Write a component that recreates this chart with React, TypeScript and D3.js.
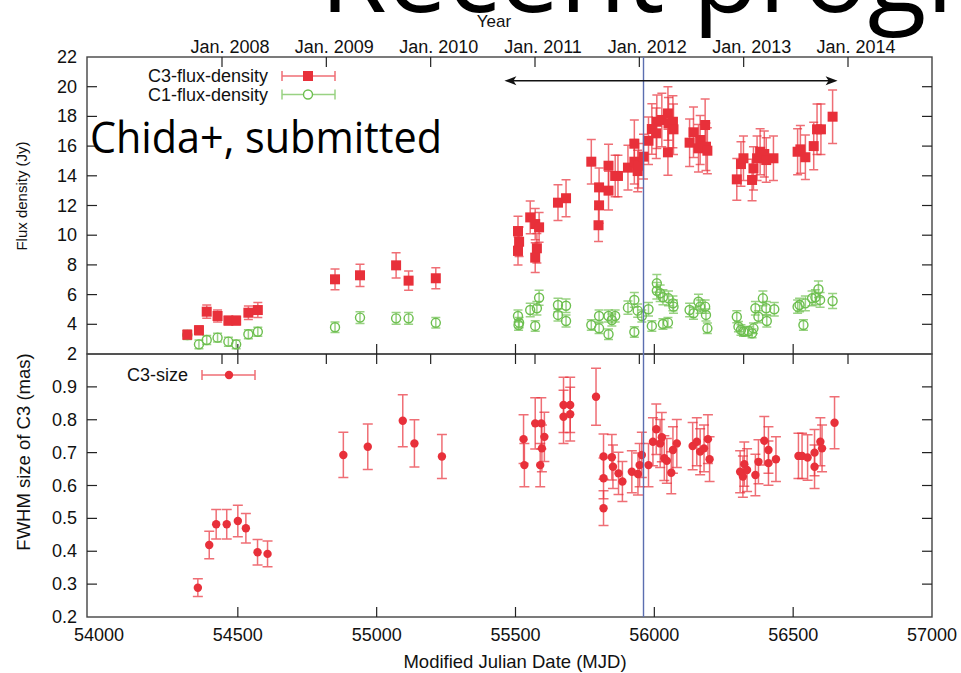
import React, { useEffect, useRef } from "react";
import * as d3 from "d3";

// C3 flux density (Jy)
const c3FluxMjd = [54318, 54360, 54388, 54427, 54466, 54494, 54538, 54572, 54850, 54940, 55070, 55115, 55213,
  55509, 55513, 55509, 55553, 55571, 55585, 55577, 55571, 55653, 55682, 55773, 55801, 55801, 55799, 55835, 55835,
  55859, 55869, 55905, 55928, 55928, 55940, 55943, 55961, 55979, 55991, 56007, 56009, 56027, 56049, 56051, 56049,
  56067, 56069, 56127, 56141, 56165, 56159, 56183, 56186, 56191, 56297, 56312, 56321, 56352, 56357, 56370, 56381,
  56396, 56403, 56429, 56516, 56526, 56544, 56574, 56586, 56600, 56642];
const c3Flux = [3.3, 3.6, 4.85, 4.56, 4.25, 4.25, 4.78, 4.96, 7.03, 7.3, 7.97, 6.94, 7.1,
  10.28, 9.56, 8.94, 11.2, 10.75, 10.53, 9.12, 8.49, 12.19, 12.49, 14.95, 13.22, 12.01, 10.67, 14.68, 13.0,
  13.99, 13.99, 14.55, 16.16, 14.95, 14.32, 14.68, 15.29, 16.36, 17.15, 16.86, 17.64, 17.76, 18.2, 17.53, 15.58,
  17.64, 17.13, 16.23, 16.93, 16.41, 15.85, 17.42, 15.96, 15.69, 13.76, 14.79, 15.18, 13.72, 14.5, 15.18, 15.62,
  15.47, 15.06, 15.18, 15.62, 15.78, 15.25, 16.0, 17.13, 17.13, 17.98];
const c3FluxErr = [0.3, 0.3, 0.45, 0.4, 0.3, 0.3, 0.45, 0.5, 0.7, 0.75, 0.85, 0.65, 0.7,
  1.0, 1.0, 0.95, 1.1, 1.05, 1.0, 1.0, 1.0, 1.2, 1.25, 1.5, 1.3, 1.2, 1.1, 1.45, 1.3,
  1.4, 1.4, 1.5, 1.6, 1.5, 1.4, 1.5, 1.5, 1.6, 1.7, 1.7, 1.8, 1.8, 1.8, 1.75, 1.55,
  1.75, 1.7, 1.6, 1.7, 1.65, 1.6, 1.75, 1.6, 1.55, 1.4, 1.5, 1.5, 1.4, 1.45, 1.5, 1.55,
  1.55, 1.5, 1.5, 1.55, 1.6, 1.5, 1.6, 1.7, 1.7, 1.8];

// C1 flux density (Jy)
const c1FluxMjd = [54318, 54360, 54388, 54427, 54466, 54494, 54538, 54572, 54850, 54940, 55070, 55115, 55213,
  55509, 55513, 55511, 55553, 55571, 55577, 55585, 55653, 55682, 55653, 55682, 55773, 55801, 55801, 55835, 55835,
  55859, 55847, 55905, 55928, 55928, 55940, 55955, 55979, 55991, 56009, 56009, 56021, 56031, 56031, 56049, 56051,
  56067, 56069, 56127, 56141, 56159, 56165, 56183, 56186, 56191, 56297, 56303, 56312, 56321, 56339, 56352, 56357,
  56364, 56375, 56391, 56403, 56405, 56432, 56516, 56523, 56537, 56544, 56568, 56580, 56591, 56597, 56642];
const c1Flux = [3.28, 2.65, 2.94, 3.1, 2.83, 2.65, 3.33, 3.5, 3.8, 4.45, 4.4, 4.4, 4.1,
  4.56, 4.11, 3.95, 4.96, 3.89, 5.08, 5.79, 5.3, 5.25, 4.63, 4.22, 3.95, 4.56, 3.73, 4.56, 3.33,
  4.56, 4.29, 5.12, 5.64, 3.48, 4.92, 4.56, 5.01, 3.89, 6.76, 6.26, 6.09, 5.82, 4.02, 4.11, 5.75,
  5.41, 5.19, 4.96, 4.74, 5.52, 5.19, 5.19, 4.63, 3.73, 4.51, 3.84, 3.62, 3.5, 3.55, 3.39, 3.73,
  5.08, 4.51, 5.75, 5.08, 4.22, 5.01, 5.19, 5.3, 3.95, 5.41, 5.75, 5.82, 6.36, 5.64, 5.57];
const c1FluxErr = [0.3, 0.3, 0.3, 0.3, 0.3, 0.3, 0.3, 0.3, 0.35, 0.4, 0.4, 0.4, 0.35,
  0.4, 0.35, 0.35, 0.45, 0.35, 0.45, 0.5, 0.45, 0.45, 0.4, 0.4, 0.35, 0.4, 0.35, 0.4, 0.35,
  0.4, 0.4, 0.45, 0.5, 0.35, 0.45, 0.4, 0.45, 0.35, 0.6, 0.55, 0.55, 0.5, 0.35, 0.35, 0.5,
  0.5, 0.45, 0.45, 0.4, 0.5, 0.45, 0.45, 0.4, 0.35, 0.4, 0.35, 0.35, 0.3, 0.3, 0.3, 0.35,
  0.45, 0.4, 0.5, 0.45, 0.4, 0.45, 0.45, 0.45, 0.35, 0.5, 0.5, 0.5, 0.55, 0.5, 0.5];

// C3 size (mas)
const c3SizeMjd = [54356, 54397, 54422, 54460, 54500, 54529, 54571, 54607, 54880, 54968, 55094, 55136, 55235,
  55529, 55532, 55571, 55593, 55589, 55595, 55604, 55673, 55673, 55697, 55697, 55790, 55817, 55817, 55817,
  55847, 55851, 55871, 55885, 55919, 55941, 55947, 55955, 55979, 55995, 56007, 56021, 56027, 56036, 56045,
  56061, 56067, 56081, 56138, 56153, 56165, 56179, 56193, 56199, 56309, 56319, 56324, 56334, 56364, 56375,
  56396, 56411, 56411, 56438, 56519, 56532, 56552, 56577, 56577, 56598, 56604, 56649];
const c3Size = [0.289, 0.419, 0.482, 0.482, 0.492, 0.47, 0.397, 0.392, 0.693, 0.718, 0.797, 0.728, 0.688,
  0.741, 0.662, 0.789, 0.789, 0.662, 0.713, 0.748, 0.845, 0.809, 0.845, 0.817, 0.87, 0.688, 0.622, 0.531,
  0.686, 0.657, 0.637, 0.612, 0.642, 0.635, 0.662, 0.693, 0.662, 0.733, 0.771, 0.728, 0.747, 0.683, 0.675,
  0.639, 0.708, 0.728, 0.72, 0.733, 0.703, 0.713, 0.741, 0.68, 0.642, 0.627, 0.665, 0.647, 0.632, 0.672,
  0.736, 0.708, 0.668, 0.68, 0.69, 0.69, 0.685, 0.7, 0.657, 0.733, 0.713, 0.791];
const c3SizeErr = [0.027, 0.042, 0.045, 0.045, 0.048, 0.045, 0.039, 0.039, 0.069, 0.069, 0.079, 0.072, 0.067,
  0.074, 0.066, 0.078, 0.078, 0.066, 0.071, 0.075, 0.084, 0.081, 0.084, 0.082, 0.087, 0.069, 0.062, 0.053,
  0.069, 0.066, 0.064, 0.061, 0.064, 0.064, 0.066, 0.069, 0.066, 0.073, 0.077, 0.073, 0.075, 0.068, 0.068,
  0.064, 0.071, 0.073, 0.072, 0.073, 0.07, 0.071, 0.074, 0.068, 0.064, 0.063, 0.067, 0.065, 0.063, 0.067,
  0.074, 0.071, 0.067, 0.068, 0.069, 0.069, 0.069, 0.07, 0.066, 0.073, 0.071, 0.079];

// axes
const mjdTicks = [54000, 54500, 55000, 55500, 56000, 56500, 57000];
const yearTicks = [2008, 2009, 2010, 2011, 2012, 2013, 2014];
const yearLabels = ["Jan. 2008", "Jan. 2009", "Jan. 2010", "Jan. 2011", "Jan. 2012", "Jan. 2013", "Jan. 2014"];
const fluxTicks = [2, 4, 6, 8, 10, 12, 14, 16, 18, 20, 22];
const sizeTicks = [0.2, 0.3, 0.4, 0.5, 0.6, 0.7, 0.8, 0.9];

// annotations
const markerMjd = 55961;
const arrowMjd = [55460, 56660];
const arrowFlux = 20.4;

const RED = "#e8303a";
const GREEN = "#6dbf4f";
const FONT = "'Liberation Sans', Arial, sans-serif";

const App = () => {
  const ref = useRef<SVGSVGElement>(null);

  useEffect(() => {
    const svg = d3.select(ref.current);
    svg.selectAll("*").remove();

    const left = 87, right = 932, top = 57, mid = 354, bottom = 617, tick = 10;

    const x = d3.scaleLinear().domain([54000, 57000]).range([99, right]);
    const yearX = d3.scaleLinear().domain([2008, 2014]).range([222, 848]);
    const yF = d3.scaleLinear().domain([2, 22]).range([mid, top]);
    const yS = d3.scaleLinear().domain([0.2, 1.0]).range([bottom, mid]);

    svg.append("rect").attr("width", 961).attr("height", 673).attr("fill", "#fff");

    const g = svg.append("g");

    // frames
    [[top, mid], [mid, bottom]].forEach(([a, b]) => {
      g.append("rect").attr("x", left).attr("y", a).attr("width", right - left).attr("height", b - a)
        .attr("fill", "none").attr("stroke", "#444").attr("stroke-width", 1.4);
    });

    const tl = (x1: number, y1: number, x2: number, y2: number) =>
      g.append("line").attr("x1", x1).attr("y1", y1).attr("x2", x2).attr("y2", y2)
        .attr("stroke", "#222").attr("stroke-width", 1.2);

    // y ticks
    fluxTicks.filter(t => t > 2 && t < 22).forEach(t => {
      tl(left, yF(t), left + tick, yF(t));
      tl(right, yF(t), right - tick, yF(t));
    });
    sizeTicks.filter(t => t > 0.2).forEach(t => {
      tl(left, yS(t), left + tick, yS(t));
      tl(right, yS(t), right - tick, yS(t));
    });
    // x ticks
    mjdTicks.filter(t => t > 54000 && t < 57000).forEach(t => {
      tl(x(t), bottom, x(t), bottom - tick);
      tl(x(t), mid, x(t), mid - tick);
      tl(x(t), mid, x(t), mid + tick);
    });
    yearTicks.forEach(t => {
      tl(yearX(t), top, yearX(t), top + tick);
      tl(yearX(t), mid, yearX(t), mid + tick);
    });

    // tick labels
    const txt = (s: string, px: number, py: number, size: number, anchor = "middle") =>
      g.append("text").attr("x", px).attr("y", py).attr("text-anchor", anchor)
        .attr("font-family", FONT).attr("font-size", size).attr("fill", "#111").text(s);

    fluxTicks.forEach(t => txt(String(t), 77, yF(t) + 6, 18, "end"));
    sizeTicks.forEach(t => txt(t.toFixed(1), 77, yS(t) + 6, 18, "end"));
    mjdTicks.forEach(t => txt(String(t), x(t), 641, 18));
    yearTicks.forEach((t, i) => txt(yearLabels[i], yearX(t) + 8, 53, 18));

    // axis titles
    txt("Year", 494, 27, 17);
    txt("Modified Julian Date (MJD)", 515, 668, 18.5);
    g.append("text").attr("transform", `translate(27,${196}) rotate(-90)`).attr("text-anchor", "middle")
      .attr("font-family", FONT).attr("font-size", 15).attr("fill", "#111").text("Flux density (Jy)");
    g.append("text").attr("transform", `translate(30,${452}) rotate(-90)`).attr("text-anchor", "middle")
      .attr("font-family", FONT).attr("font-size", 18.5).attr("fill", "#111").text("FWHM size of C3 (mas)");

    // error bars
    const errBars = (xs: number[], ys: number[], es: number[], y: d3.ScaleLinear<number, number>, color: string, cap: number) => {
      const eg = g.append("g").attr("stroke", color).attr("stroke-width", 1.5).attr("stroke-opacity", 0.7).attr("fill", "none");
      xs.forEach((m, i) => {
        const px = x(m), lo = y(ys[i] - es[i]), hi = y(ys[i] + es[i]);
        eg.append("path").attr("d",
          `M${px},${lo}V${hi}M${px - cap},${lo}H${px + cap}M${px - cap},${hi}H${px + cap}`);
      });
    };
    errBars(c1FluxMjd, c1Flux, c1FluxErr, yF, GREEN, 4.5);
    errBars(c3FluxMjd, c3Flux, c3FluxErr, yF, RED, 4.5);
    errBars(c3SizeMjd, c3Size, c3SizeErr, yS, RED, 5);

    // markers
    g.append("g").selectAll("circle").data(c1FluxMjd).join("circle")
      .attr("cx", d => x(d)).attr("cy", (_, i) => yF(c1Flux[i])).attr("r", 4.5)
      .attr("fill", "none").attr("stroke", GREEN).attr("stroke-width", 1.4);
    g.append("g").selectAll("rect").data(c3FluxMjd).join("rect")
      .attr("x", d => x(d) - 5).attr("y", (_, i) => yF(c3Flux[i]) - 5).attr("width", 10).attr("height", 10)
      .attr("fill", RED);
    g.append("g").selectAll("circle").data(c3SizeMjd).join("circle")
      .attr("cx", d => x(d)).attr("cy", (_, i) => yS(c3Size[i])).attr("r", 4.2)
      .attr("fill", RED);

    // vertical marker line
    g.append("line").attr("x1", x(markerMjd)).attr("x2", x(markerMjd)).attr("y1", top).attr("y2", bottom)
      .attr("stroke", "#5b6eb0").attr("stroke-width", 1.4);

    // double arrow
    const ay = yF(arrowFlux), ax0 = x(arrowMjd[0]), ax1 = x(arrowMjd[1]);
    g.append("line").attr("x1", ax0 + 4).attr("x2", ax1 - 4).attr("y1", ay).attr("y2", ay)
      .attr("stroke", "#111").attr("stroke-width", 1.4);
    g.append("path").attr("fill", "#111")
      .attr("d", `M${ax0},${ay}L${ax0 + 12},${ay - 4.5}L${ax0 + 9},${ay}L${ax0 + 12},${ay + 4.5}Z`);
    g.append("path").attr("fill", "#111")
      .attr("d", `M${ax1},${ay}L${ax1 - 12},${ay - 4.5}L${ax1 - 9},${ay}L${ax1 - 12},${ay + 4.5}Z`);

    // legends
    const legendLine = (x0: number, x1: number, ly: number, color: string) => {
      g.append("path").attr("stroke", color).attr("stroke-width", 1.5).attr("stroke-opacity", 0.7).attr("fill", "none")
        .attr("d", `M${x0},${ly}H${x1}M${x0},${ly - 5}V${ly + 5}M${x1},${ly - 5}V${ly + 5}`);
    };
    txt("C3-flux-density", 268, 82, 18, "end");
    legendLine(282, 335, 76, RED);
    g.append("rect").attr("x", 303).attr("y", 71).attr("width", 10).attr("height", 10).attr("fill", RED);
    txt("C1-flux-density", 268, 100.5, 18, "end");
    legendLine(282, 335, 94.5, GREEN);
    g.append("circle").attr("cx", 308).attr("cy", 94.5).attr("r", 4.5).attr("fill", "#fff")
      .attr("stroke", GREEN).attr("stroke-width", 1.4);
    txt("C3-size", 188, 381, 18, "end");
    legendLine(202, 255, 375, RED);
    g.append("circle").attr("cx", 229).attr("cy", 375).attr("r", 4.2).attr("fill", RED);

    // slide overlay text
    g.append("text").attr("x", 90).attr("y", 153).attr("font-family", "'Open Sans', sans-serif")
      .attr("font-size", 43).attr("textLength", 352).attr("lengthAdjust", "spacingAndGlyphs")
      .attr("fill", "#000").text("Chida+, submitted");
    g.append("text").attr("x", 320).attr("y", 12).attr("font-family", "'Open Sans', sans-serif")
      .attr("font-size", 108).attr("fill", "#000").text("Recent progr");
  }, []);

  return (
    <svg ref={ref} width={961} height={673}
      style={{ position: "absolute", left: 0, top: 0, display: "block" }} />
  );
};

export default App;
